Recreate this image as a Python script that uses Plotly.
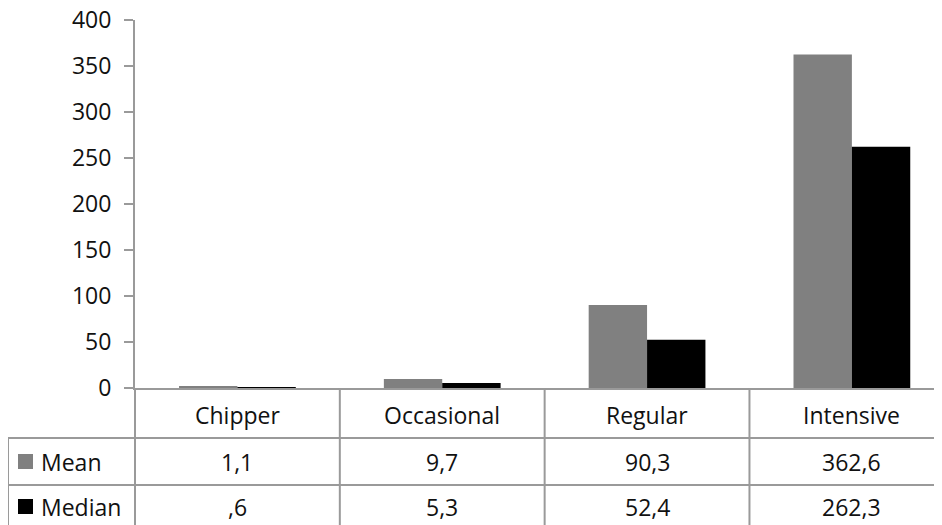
import plotly.graph_objects as go

# data
categories = ["Chipper", "Occasional", "Regular", "Intensive"]
mean_vals = [1.1, 9.7, 90.3, 362.6]
median_vals = [0.6, 5.3, 52.4, 262.3]
series_names = ["Mean", "Median"]
series_colors = ["#808080", "#000000"]
y_ticks = [0, 50, 100, 150, 200, 250, 300, 350, 400]

# the page body adds an 8px margin, so the figure is drawn 8px smaller
OFF = 8
W, H = 942 - OFF, 525 - OFF
ML, MT, MB = 135 - OFF, 20 - OFF, 137
PW, PH = W - ML, H - MT - MB
FONT = "Open Sans"
FS = 23
TXT = "#111111"
LINE = "#9a9a9a"


def px_x(x):
    # reference pixel x -> paper x
    return (x - OFF - ML) / PW


def px_y(y):
    # reference pixel y -> paper y
    return (H - MB - (y - OFF)) / PH


def fmt(v):
    s = f"{v:.1f}".replace(".", ",")
    if s.startswith("0,"):
        s = s[1:]
    return s


fig = go.Figure()
for name, vals, col in zip(series_names, [mean_vals, median_vals], series_colors):
    fig.add_trace(go.Bar(x=categories, y=vals, name=name, marker_color=col,
                         marker_line_width=0, showlegend=False))

shapes = []
annotations = []

# horizontal table lines
for y in [438, 485]:
    shapes.append(dict(type="line", xref="paper", yref="paper",
                       x0=px_x(8), x1=1, y0=px_y(y), y1=px_y(y),
                       line=dict(color=LINE, width=2)))
# left edge of the row-label column
shapes.append(dict(type="line", xref="paper", yref="paper",
                   x0=px_x(8), x1=px_x(8), y0=px_y(438), y1=px_y(530),
                   line=dict(color=LINE, width=2)))
# axis line continues down through the table
shapes.append(dict(type="line", xref="paper", yref="paper",
                   x0=0, x1=0, y0=0, y1=px_y(530),
                   line=dict(color=LINE, width=2)))
# category separators
for i in range(len(categories) - 1):
    shapes.append(dict(type="line", xref="x", yref="paper",
                       x0=i + 0.5, x1=i + 0.5, y0=0, y1=px_y(530),
                       line=dict(color=LINE, width=2)))

# category header row
for c in categories:
    annotations.append(dict(x=c, xref="x", y=px_y(415), yref="paper",
                            text=c, showarrow=False, yanchor="middle",
                            font=dict(family=FONT, size=FS, color=TXT)))

# value rows with legend keys
row_centers = [462, 507]
for name, vals, col, yc in zip(series_names, [mean_vals, median_vals], series_colors, row_centers):
    shapes.append(dict(type="rect", xref="paper", yref="paper",
                       x0=px_x(18), x1=px_x(33), y0=px_y(yc - 8), y1=px_y(yc + 7),
                       fillcolor=col, line=dict(width=0)))
    annotations.append(dict(x=px_x(39), xref="paper", y=px_y(yc), yref="paper",
                            text=name, showarrow=False, xanchor="left", yanchor="middle",
                            font=dict(family=FONT, size=FS, color=TXT)))
    for c, v in zip(categories, vals):
        annotations.append(dict(x=c, xref="x", y=px_y(yc), yref="paper",
                                text=fmt(v), showarrow=False, yanchor="middle",
                                font=dict(family=FONT, size=FS, color=TXT)))

fig.update_layout(
    width=W, height=H,
    margin=dict(l=ML, r=0, t=MT, b=MB, pad=0),
    paper_bgcolor="white", plot_bgcolor="white",
    barmode="group", bargap=0.43, bargroupgap=0,
    shapes=shapes, annotations=annotations,
    font=dict(family=FONT, size=FS, color=TXT),
)
fig.update_xaxes(range=[-0.5, 3.44], showticklabels=False, ticks="",
                 showline=True, linecolor=LINE, linewidth=2, showgrid=False,
                 zeroline=False)
fig.update_yaxes(range=[0, 400], tickvals=y_ticks, ticks="outside", ticklen=9,
                 tickcolor=LINE, tickwidth=2, showline=True, linecolor=LINE,
                 linewidth=2, showgrid=False, zeroline=False,
                 ticklabelstandoff=8, ticklabeloverflow="allow",
                 automargin=False,
                 tickfont=dict(family=FONT, size=FS, color=TXT))

fig.write_html("out.html")
